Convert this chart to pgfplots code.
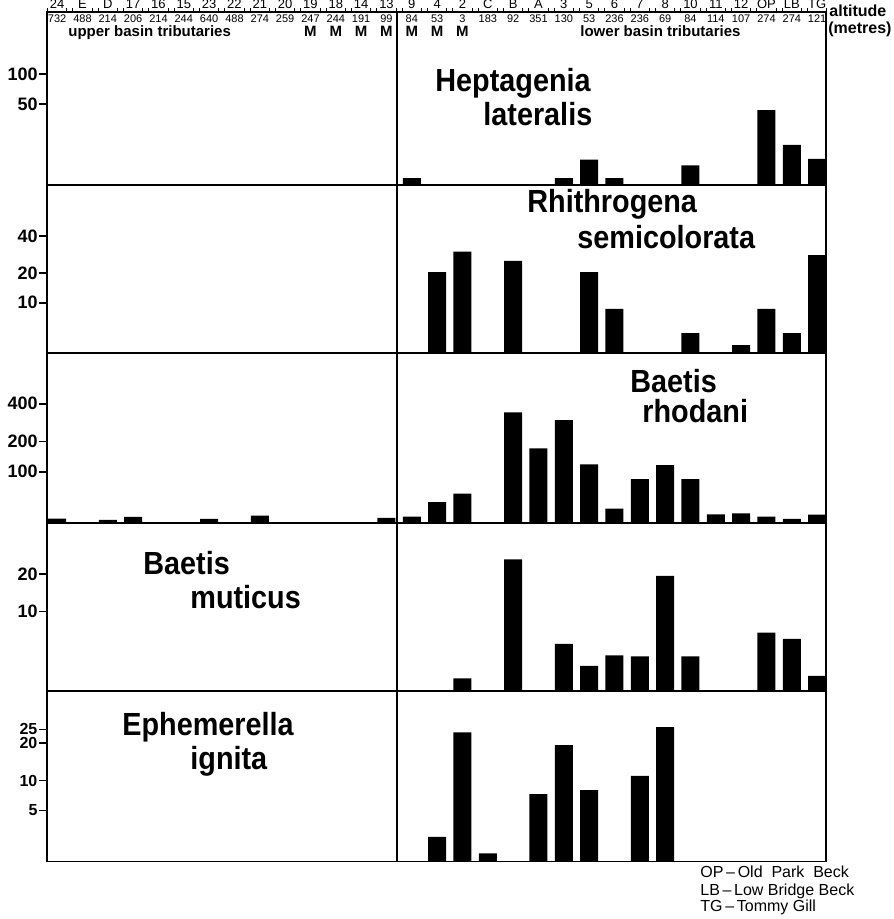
\documentclass[border=0pt]{standalone}
\usepackage{pgfplots}
\pgfplotsset{compat=1.18}
\usepackage{pgfplotstable}
\usepackage{fontspec}
\setmainfont{Liberation Sans}
\newfontfamily\spfont{Liberation Sans}[FakeStretch=0.9]

% column index (0..30) and value
\pgfplotstableread{
col v
14 2.0
20 2.0
21 8.5
22 2.0
25 6.2
28 43
29 15.6
30 8.8
}\heptagenia
\pgfplotstableread{
col v
15 20.4
16 30.3
18 25.5
21 20.4
22 8.4
25 3.2
27 1.2
28 8.4
29 3.2
30 28.5
}\rhithrogena
\pgfplotstableread{
col v
0 6.5
2 4.7
3 8.9
6 6.0
8 10.9
13 7.4
14 9.3
15 33
16 49
18 345
19 174
20 301
21 121
22 21.7
23 81.5
24 119
25 81.5
26 12.9
27 14.4
28 9.3
29 6.0
30 12.3
}\rhodani
\pgfplotstableread{
col v
16 1.0
18 25.6
20 4.6
21 2.1
22 3.2
23 3.1
24 19.4
25 3.1
28 6.2
29 5.3
30 1.2
}\muticus
\pgfplotstableread{
col v
15 2.0
16 23.8
17 0.6
19 7.5
20 19.3
21 8.2
23 11
24 26
}\ignita

\pgfplotsset{
  panel/.style={
    scale only axis, width=389.5pt, anchor=south west,
    xmin=0, xmax=30.75, ymin=0,
    xtick=\empty,
    ytick pos=left, tick align=outside, major tick length=4pt,
    tick style={line width=0.8pt, black},
    yticklabel style={font=\bfseries\fontsize{9}{9}\selectfont, inner sep=0.5pt},
    /pgf/number format/assume math mode=true,
    axis line style={line width=0.6pt},
  },
  bars/.style={ybar, fill=black, draw=none, bar width=0.71},
}
\newcommand{\spn}{\spfont\bfseries\fontsize{16}{16}\selectfont}

\begin{document}
\begin{tikzpicture}
\useasboundingbox (0,0) rectangle (446.5pt,459.5pt);

% Panel 1
\begin{axis}[panel, at={(23.5pt,366.75pt)}, height=86.75pt,
  y coord trafo/.code={\pgfmathparse{ln(1+#1/13)}},
  y coord inv trafo/.code={\pgfmathparse{13*(exp(#1)-1)}},
  ymax=362, ytick={50,100}, yticklabels={50,100}]
\addplot[bars] table[x expr=\thisrow{col}+0.4, y=v] {\heptagenia};
\draw[line width=1.1pt] (rel axis cs:0,0) -- (rel axis cs:1,0);
\end{axis}

% Panel 2
\begin{axis}[panel, at={(23.5pt,282.85pt)}, height=83.9pt,
  y coord trafo/.code={\pgfmathparse{ln(1+#1/10)}},
  y coord inv trafo/.code={\pgfmathparse{10*(exp(#1)-1)}},
  ymax=89.9, ytick={10,20,40}, yticklabels={10,20,40}]
\addplot[bars] table[x expr=\thisrow{col}+0.4, y=v] {\rhithrogena};
\draw[line width=1.1pt] (rel axis cs:0,0) -- (rel axis cs:1,0);
\end{axis}

% Panel 3
\begin{axis}[panel, at={(23.5pt,197.85pt)}, height=85pt,
  y coord trafo/.code={\pgfmathparse{ln(1+#1/100)}},
  y coord inv trafo/.code={\pgfmathparse{100*(exp(#1)-1)}},
  ymax=885.5, ytick={100,200,400}, yticklabels={100,200,400}]
\addplot[bars] table[x expr=\thisrow{col}+0.4, y=v] {\rhodani};
\draw[line width=1.1pt] (rel axis cs:0,0) -- (rel axis cs:1,0);
\end{axis}

% Panel 4
\begin{axis}[panel, at={(23.5pt,113.7pt)}, height=84.15pt,
  y coord trafo/.code={\pgfmathparse{ln(1+#1/5)}},
  y coord inv trafo/.code={\pgfmathparse{5*(exp(#1)-1)}},
  ymax=45.1, ytick={10,20}, yticklabels={10,20}]
\addplot[bars] table[x expr=\thisrow{col}+0.4, y=v] {\muticus};
\draw[line width=1.1pt] (rel axis cs:0,0) -- (rel axis cs:1,0);
\end{axis}

% Panel 5
\begin{axis}[panel, at={(23.5pt,28.65pt)}, height=85.05pt,
  y coord trafo/.code={\pgfmathparse{ln(1+#1/5)}},
  y coord inv trafo/.code={\pgfmathparse{5*(exp(#1)-1)}},
  ymax=45.1, ytick={5,10,20,25}, yticklabels={5,10,20,25},
  yticklabel style={font=\bfseries\fontsize{8}{8}\selectfont, inner sep=0pt, xshift=-0.6pt}]
\addplot[bars] table[x expr=\thisrow{col}+0.4, y=v] {\ignita};
\draw[line width=1.1pt] (rel axis cs:0,0) -- (rel axis cs:1,0);
\end{axis}

% divider between upper and lower basin
\draw[line width=0.6pt] (198.5pt,28.65pt) -- (198.5pt,453.5pt);

% site labels and ruler ticks
\foreach \s [count=\i from 0] in {24,E,D,17,16,15,23,22,21,20,19,18,14,13,9,4,2,C,B,A,3,5,6,7,8,10,11,12,OP,LB,TG} {
  \node[font=\fontsize{6.5}{6.5}\selectfont, anchor=base, inner sep=0pt] at ({23.5pt+12.667pt*(\i+0.4)},455pt) {\s};
  \draw[line width=0.4pt] ({23.5pt+12.667pt*(\i+0.02)},453.5pt) -- ++(0,2pt);
  \draw[line width=0.4pt] ({23.5pt+12.667pt*(\i+0.78)},453.5pt) -- ++(0,2pt);
}
% altitudes
\foreach \a [count=\i from 0] in {732,488,214,206,214,244,640,488,274,259,247,244,191,99,84,53,3,183,92,351,130,53,236,236,69,84,114,107,274,274,121} {
  \node[font=\fontsize{5.5}{5.5}\selectfont, anchor=base, inner sep=0pt] at ({23.5pt+12.667pt*(\i+0.4)},448pt) {\a};
}
% M marks
\foreach \i in {10,11,12,13,14,15,16} {
  \node[font=\bfseries\fontsize{7.5}{7.5}\selectfont, anchor=base, inner sep=0pt] at ({23.5pt+12.667pt*(\i+0.4)},441.3pt) {M};
}
\node[font=\bfseries\fontsize{7.5}{7.5}\selectfont, anchor=base west, inner sep=0pt] at (34pt,441.3pt) {upper\ basin\ tributaries};
\node[font=\bfseries\fontsize{7.5}{7.5}\selectfont, anchor=base west, inner sep=0pt] at (290pt,441.3pt) {lower\ basin\ tributaries};
\node[font=\bfseries\fontsize{8}{8}\selectfont, anchor=base west, inner sep=0pt] at (414.5pt,451pt) {altitude};
\node[font=\bfseries\fontsize{8}{8}\selectfont, anchor=base west, inner sep=0pt] at (414pt,442.5pt) {(metres)};

% species names
\node[font=\spn, anchor=base west, inner sep=0pt] at (217.5pt,413.5pt) {Heptagenia};
\node[font=\spn, anchor=base west, inner sep=0pt] at (241.5pt,396.5pt) {lateralis};
\node[font=\spn, anchor=base west, inner sep=0pt] at (263.5pt,353pt) {Rhithrogena};
\node[font=\spn, anchor=base west, inner sep=0pt] at (288.5pt,335pt) {semicolorata};
\node[font=\spn, anchor=base west, inner sep=0pt] at (315pt,263pt) {Baetis};
\node[font=\spn, anchor=base west, inner sep=0pt] at (321pt,248pt) {rhodani};
\node[font=\spn, anchor=base west, inner sep=0pt] at (71.5pt,172pt) {Baetis};
\node[font=\spn, anchor=base west, inner sep=0pt] at (95pt,155pt) {muticus};
\node[font=\spn, anchor=base west, inner sep=0pt] at (61pt,91.5pt) {Ephemerella};
\node[font=\spn, anchor=base west, inner sep=0pt] at (95pt,74.5pt) {ignita};

% notes
\node[font=\fontsize{8}{8}\selectfont, anchor=base west, inner sep=0pt] at (350pt,20.5pt) {OP\,--\,Old\ \ Park\ \ Beck};
\node[font=\fontsize{8}{8}\selectfont, anchor=base west, inner sep=0pt] at (350pt,12pt) {LB\,--\,Low\ Bridge\ Beck};
\node[font=\fontsize{8}{8}\selectfont, anchor=base west, inner sep=0pt] at (350pt,3.5pt) {TG\,--\,Tommy\ Gill};
\end{tikzpicture}
\end{document}
